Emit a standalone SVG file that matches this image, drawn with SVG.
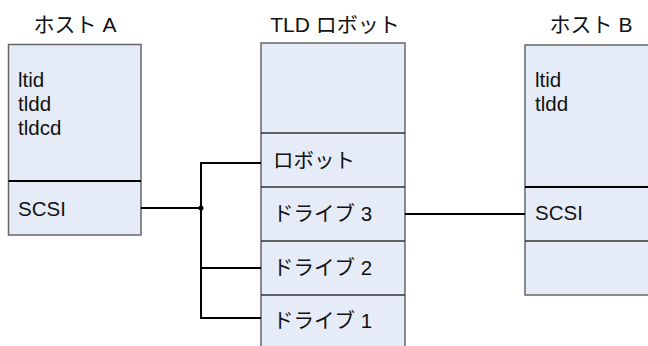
<svg xmlns="http://www.w3.org/2000/svg" width="648" height="346" viewBox="0 0 648 346">
<style>
.box{fill:#E6ECF7;stroke:#666666;stroke-width:1.5}
.div{stroke:#333333;stroke-width:1.5}
.div2{stroke:#000000;stroke-width:2}
.t{font-family:"Liberation Sans","Noto Sans CJK JP",Arial,sans-serif;font-size:20.5px;fill:#111111}
.ttl{font-family:"Liberation Sans","Noto Sans CJK JP",Arial,sans-serif;font-size:21px;fill:#111111;text-anchor:middle}
.c{fill:none;stroke:#000000;stroke-width:2}
</style>
<rect width="648" height="346" fill="#ffffff"/>
<g id="hostA">
<text class="ttl" x="75" y="32">ホスト A</text>
<rect class="box" x="8.5" y="44.5" width="132.5" height="190.5"/>
<line class="div2" x1="8.5" y1="181" x2="141" y2="181"/>
<text class="t" x="18" y="87">ltid</text>
<text class="t" x="18" y="111">tldd</text>
<text class="t" x="18" y="135">tldcd</text>
<text class="t" x="18" y="216">SCSI</text>
</g>
<g id="robot">
<text class="ttl" x="335" y="32">TLD ロボット</text>
<rect class="box" x="261" y="43" width="144" height="310"/>
<line class="div" x1="261" y1="133" x2="405" y2="133"/>
<line class="div" x1="261" y1="187" x2="405" y2="187"/>
<line class="div" x1="261" y1="241" x2="405" y2="241"/>
<line class="div" x1="261" y1="295" x2="405" y2="295"/>
<text class="t" x="273" y="168">ロボット</text>
<text class="t" x="273" y="221">ドライブ 3</text>
<text class="t" x="273" y="275">ドライブ 2</text>
<text class="t" x="273" y="328">ドライブ 1</text>
</g>
<g id="hostB">
<text class="ttl" x="591" y="32">ホスト B</text>
<rect class="box" x="525" y="45" width="140" height="250"/>
<line class="div2" x1="525" y1="187" x2="665" y2="187"/>
<line class="div" x1="525" y1="241" x2="665" y2="241"/>
<text class="t" x="535" y="87">ltid</text>
<text class="t" x="535" y="111">tldd</text>
<text class="t" x="535" y="220">SCSI</text>
</g>
<g id="connectors">
<line class="c" x1="141" y1="208" x2="201" y2="208"/>
<polyline class="c" points="261,163 201,163 201,318 261,318"/>
<line class="c" x1="201" y1="268" x2="261" y2="268"/>
<circle cx="201" cy="208" r="2.5" fill="#000000"/>
<line class="c" x1="405" y1="214" x2="525" y2="214"/>
</g>
</svg>
